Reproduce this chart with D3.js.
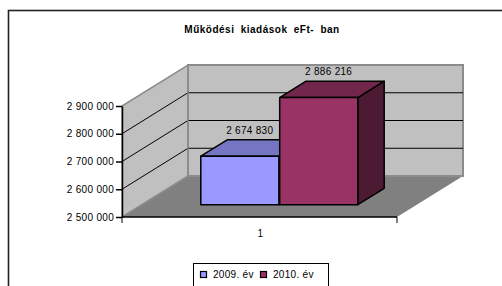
<!DOCTYPE html>
<html>
<head>
<meta charset="utf-8">
<style>
    body { margin: 0; background: #fff; }
    svg { display: block; font-family: 'Liberation Sans', Arial, sans-serif; }
    .y .domain { stroke: #000; stroke-width: 1.5px; }
    .y .tick line { stroke: #000; stroke-width: 1.5px; }
    .y .tick text { font-size: 10px; fill: #000; letter-spacing: 0.3px; }
    .title { font-size: 10px; font-weight: bold; letter-spacing: 0.5px; word-spacing: 3px; }
    .label { font-size: 10px; letter-spacing: 0.3px; }
    .legend text { font-size: 10px; letter-spacing: 0.3px; }
</style>
</head>
<body>
<svg width="502" height="286"></svg>
<script src="https://d3js.org/d3.v7.min.js"></script>
<script>
    // data
    const categories = ["1"];
    const seriesNames = ["2009. év", "2010. év"];
    const values = [2674830, 2886216];
    const yTicks = [2500000, 2600000, 2700000, 2800000, 2900000];

    const frontColors = ["#9999ff", "#993366"];
    const topColors = ["#7575c4", "#72264c"];
    const sideColors = ["#5c5c99", "#4d1a33"];

    const svg = d3.select("svg");

    // plot geometry (front plane of the floor)
    const plotLeft = 122, plotRight = 397, plotBottom = 217, plotTop = 106;
    const depthX = 66, depthY = -41;     // full depth of the box
    const z0 = 0.3, z1 = 0.7;            // bar depth range

    const fmt = d3.formatLocale({ thousands: " ", grouping: [3], decimal: "," }).format(",");

    const y = d3.scaleLinear().domain([2500000, 2900000]).range([plotBottom, plotTop]);
    const x = d3.scaleBand().domain(categories).range([plotLeft, plotRight]);
    const xs = d3.scaleBand().domain(seriesNames)
        .range([x(categories[0]) + 59, x(categories[0]) + 216]).paddingInner(0.01);

    // outer frame
    svg.append("rect")
        .attr("x", 8.5).attr("y", 10.5)
        .attr("width", 560).attr("height", 320)
        .attr("fill", "none").attr("stroke", "#222").attr("stroke-width", 1.6);

    svg.append("text").attr("class", "title")
        .attr("x", 262).attr("y", 33)
        .attr("text-anchor", "middle")
        .text("Működési kiadások eFt- ban");

    const p = (xx, yy, z) => [xx + depthX * z, yy + depthY * z];
    const poly = pts => pts.map(d => d.join(",")).join(" ");

    const yMin = y.domain()[0], yMax = y.domain()[1];

    // floor
    svg.append("polygon")
        .attr("points", poly([p(plotLeft, y(yMin), 0), p(plotRight, y(yMin), 0), p(plotRight, y(yMin), 1), p(plotLeft, y(yMin), 1)]))
        .attr("fill", "#808080");

    // back wall
    svg.append("polygon")
        .attr("points", poly([p(plotLeft, y(yMin), 1), p(plotRight, y(yMin), 1), p(plotRight, y(yMax), 1), p(plotLeft, y(yMax), 1)]))
        .attr("fill", "#c0c0c0").attr("stroke", "#8c8c8c").attr("stroke-width", 2);

    // left wall
    svg.append("polygon")
        .attr("points", poly([p(plotLeft, y(yMin), 0), p(plotLeft, y(yMin), 1), p(plotLeft, y(yMax), 1), p(plotLeft, y(yMax), 0)]))
        .attr("fill", "#c0c0c0").attr("stroke", "#8c8c8c").attr("stroke-width", 1.5);

    // gridlines on walls
    const grid = svg.append("g");
    yTicks.slice(1, -1).forEach(v => {
        const a = p(plotLeft, y(v), 0), b = p(plotLeft, y(v), 1), c = p(plotRight, y(v), 1);
        grid.append("polyline")
            .attr("points", poly([a, b, c]))
            .attr("fill", "none").attr("stroke", "#000").attr("stroke-width", 1);
    });
    // back wall corner
    svg.append("line")
        .attr("x1", plotLeft + depthX).attr("y1", y(yMin) + depthY)
        .attr("x2", plotLeft + depthX).attr("y2", y(yMax) + depthY)
        .attr("stroke", "#8c8c8c").attr("stroke-width", 1.5);

    // bars
    const bars = svg.append("g");
    seriesNames.forEach((s, i) => {
        const x0 = xs(s), x1 = xs(s) + xs.bandwidth();
        const yb = y(yMin), yt = y(values[i]);
        const f = [p(x0, yb, z0), p(x1, yb, z0), p(x1, yt, z0), p(x0, yt, z0)];
        const side = [p(x1, yb, z0), p(x1, yb, z1), p(x1, yt, z1), p(x1, yt, z0)];
        const tp = [p(x0, yt, z0), p(x1, yt, z0), p(x1, yt, z1), p(x0, yt, z1)];
        bars.append("polygon").attr("points", poly(side)).attr("fill", sideColors[i])
            .attr("stroke", "#000").attr("stroke-width", 1.5).attr("stroke-linejoin", "round");
        bars.append("polygon").attr("points", poly(tp)).attr("fill", topColors[i])
            .attr("stroke", "#000").attr("stroke-width", 1.5).attr("stroke-linejoin", "round");
        bars.append("polygon").attr("points", poly(f)).attr("fill", frontColors[i])
            .attr("stroke", "#000").attr("stroke-width", 1.5).attr("stroke-linejoin", "round");

        const lx0 = p((x0 + x1) / 2, yt, 0.45)[0];
        const ly0 = p(x0, yt, z1)[1];
        svg.append("text").attr("class", "label")
            .attr("x", lx0).attr("y", ly0 - 6)
            .attr("text-anchor", "middle")
            .text(fmt(values[i]));
    });

    // y axis
    svg.append("g")
        .attr("class", "y axis")
        .attr("transform", `translate(${plotLeft},0)`)
        .call(d3.axisLeft(y).tickValues(yTicks).tickSize(6).tickSizeOuter(0).tickPadding(2).tickFormat(fmt));

    // x axis
    svg.append("line")
        .attr("x1", plotLeft).attr("x2", plotRight).attr("y1", plotBottom).attr("y2", plotBottom)
        .attr("stroke", "#000").attr("stroke-width", 1.5);
    [plotLeft, plotRight].forEach(xx => {
        svg.append("line")
            .attr("x1", xx).attr("x2", xx).attr("y1", plotBottom).attr("y2", plotBottom + 6)
            .attr("stroke", "#000");
    });
    svg.append("text").attr("class", "label")
        .attr("x", x(categories[0]) + x.bandwidth() / 2 + 1).attr("y", 237)
        .attr("text-anchor", "middle")
        .text(categories[0]);

    // legend
    const legend = svg.append("g").attr("class", "legend");
    legend.append("rect")
        .attr("x", 193.5).attr("y", 263.5).attr("width", 135).attr("height", 40)
        .attr("fill", "#fff").attr("stroke", "#000");
    const lx = d3.scaleOrdinal().domain(seriesNames).range([200, 260]);
    seriesNames.forEach((s, i) => {
        legend.append("rect")
            .attr("x", lx(s) + 0.5).attr("y", 271.5).attr("width", 6).attr("height", 6)
            .attr("fill", frontColors[i]).attr("stroke", "#000").attr("stroke-width", 1.2);
        legend.append("text")
            .attr("x", lx(s) + 13).attr("y", 278)
            .text(s);
    });
</script>
</body>
</html>
